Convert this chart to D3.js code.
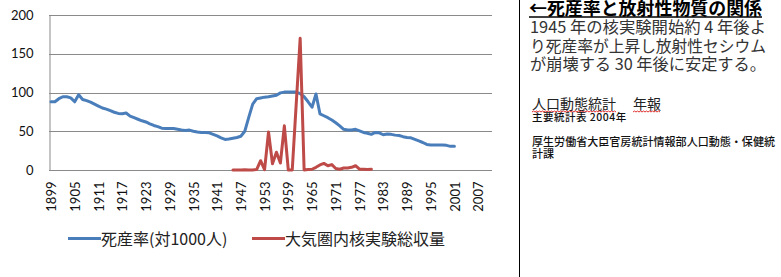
<!DOCTYPE html>
<html><head><meta charset="utf-8">
<script src="https://cdn.jsdelivr.net/npm/d3@7"></script>
<style>
html,body{margin:0;padding:0;background:#fff;}
svg{display:block;}
</style></head>
<body>
<svg id="c" width="781" height="277"></svg>
<script>
// ---- data ----
const categories = d3.range(1899, 2011); // 1899..2010
const tickLabels = [1899,1905,1911,1917,1923,1929,1935,1941,1947,1953,1959,1965,1971,1977,1983,1989,1995,2001,2007];
const yTicks = [0,50,100,150,200];

const stillbirthStart = 1899;
const stillbirthRate = [
 88,88,92,94.5,94.5,93,88,97,91,89.5,          // 1899-1908
 87.5,85,82.5,80,78.5,76.5,74.5,73,72.5,73.5,  // 1909-1918
 69.5,67.5,65.5,63.5,62,59.5,57.5,56,54,53.5,  // 1919-1928
 53.5,53.5,52.5,51.5,51,51.5,50,49,48.5,48.5,  // 1929-1938
 48,46,44,41.5,39.5,40,41,42,43.5,50,          // 1939-1948
 68,85,92,93,94,94.5,95.5,96.5,99.5,100.5,     // 1949-1958
 100.5,100.5,100.5,98.5,94.5,88,81,98,72.5,70, // 1959-1968
 67.5,64.5,61,57,52.5,51.5,51.5,52.5,50.5,48.5,// 1969-1978
 47.5,46,48.5,48,45.5,46.5,46,45,44.5,43,      // 1979-1988
 42,41.5,39.5,37.5,35.5,33,32.3,32.3,32.3,32.3,// 1989-1998
 31.8,30.5,30.5                                // 1999-2001
];

const testYieldStart = 1945;
const testYield = [
 0,0,0,0.2,0.1,0,0.6,12,0.5,49,   // 1945-1954
 8,23,9,57,0,0,85,170,0,0.5,      // 1955-1964
 1,3.5,6.5,8.5,5.5,7,2,1,2.5,2.5, // 1965-1974
 3.5,5.5,1,1,0.5,1                // 1975-1980
];

const seriesNames = ["死産率(対1000人)", "大気圏内核実験総収量"];
const seriesColors = ["#4a7ebb", "#be4b48"];

// ---- chart ----
const svg = d3.select("#c");
const pL = 49, pR = 492, pT = 15, pB = 170;

const x = d3.scalePoint().domain(categories).range([pL, pR]).padding(0.5);
const y = d3.scaleLinear().domain([0, 200]).range([pB, pT]);

// gridlines
svg.append("g").selectAll("line").data(yTicks.filter(d => d > 0)).join("line")
  .attr("x1", pL).attr("x2", pR)
  .attr("y1", d => Math.round(y(d)) + 0.5).attr("y2", d => Math.round(y(d)) + 0.5)
  .attr("stroke", "#8a8a8a").attr("stroke-width", 1);

// y axis
const yAxis = svg.append("g").attr("transform", `translate(${pL + 0.5},0)`)
  .call(d3.axisLeft(y).tickValues(yTicks).tickSize(0).tickPadding(16));
yAxis.select(".domain").attr("stroke", "#8a8a8a");
yAxis.selectAll("text").attr("font-family", "Lato, 'Liberation Sans', sans-serif")
  .attr("font-size", 13).attr("fill", "#111");

// x axis
const xAxis = svg.append("g").attr("transform", `translate(0,${Math.round(pB) + 0.5})`)
  .call(d3.axisBottom(x).tickValues(tickLabels).tickSize(0));
xAxis.select(".domain").attr("stroke", "#8a8a8a").attr("d", `M${pL},0H${pR}`);
xAxis.selectAll("text")
  .attr("font-family", "Lato, 'Liberation Sans', sans-serif")
  .attr("font-size", 13).attr("fill", "#111")
  .attr("transform", "rotate(-90)")
  .attr("text-anchor", "end")
  .attr("x", -11).attr("y", 0).attr("dy", "0.36em");

// lines
const line = d3.line().x(d => x(d[0])).y(d => y(d[1]));
const blueData = stillbirthRate.map((v, i) => [stillbirthStart + i, v]);
const redData = testYield.map((v, i) => [testYieldStart + i, v]);

svg.append("path").datum(blueData).attr("d", line)
  .attr("fill", "none").attr("stroke", seriesColors[0]).attr("stroke-width", 3)
  .attr("stroke-linejoin", "round").attr("stroke-linecap", "round");
svg.append("path").datum(redData).attr("d", line)
  .attr("fill", "none").attr("stroke", seriesColors[1]).attr("stroke-width", 3)
  .attr("stroke-linejoin", "round").attr("stroke-linecap", "round");

// legend
const legendX = [68, 252];
const leg = svg.append("g");
seriesNames.forEach((name, i) => {
  leg.append("line").attr("x1", legendX[i]).attr("x2", legendX[i] + 33)
    .attr("y1", 238.5).attr("y2", 238.5)
    .attr("stroke", seriesColors[i]).attr("stroke-width", 3);
  leg.append("text").attr("x", legendX[i] + 33).attr("y", 245)
    .attr("font-family", "'Noto Sans CJK JP', sans-serif").attr("font-size", 16)
    .attr("fill", "#222").text(name);
});

// right panel
svg.append("line").attr("x1", 519.5).attr("x2", 519.5).attr("y1", 0).attr("y2", 277)
  .attr("stroke", "#000").attr("stroke-width", 1);

const jp = "'Noto Sans CJK JP', sans-serif";
svg.append("text").attr("x", 529).attr("y", 14.5)
  .attr("font-family", jp).attr("font-size", 18).attr("font-weight", 700)
  .attr("fill", "#000").attr("textLength", 233).attr("lengthAdjust", "spacingAndGlyphs")
  .text("←死産率と放射性物質の関係");
svg.append("line").attr("x1", 529).attr("x2", 762).attr("y1", 17).attr("y2", 17)
  .attr("stroke", "#000").attr("stroke-width", 1.6);

const para = ["1945 年の核実験開始約 4 年後よ", "り死産率が上昇し放射性セシウム", "が崩壊する 30 年後に安定する。"];
para.forEach((t, i) => {
  svg.append("text").attr("x", 530).attr("y", 33 + i * 18.5)
    .attr("font-family", jp).attr("font-size", 16).attr("fill", "#333")
    .attr("textLength", 236).attr("lengthAdjust", "spacingAndGlyphs")
    .text(t);
});

svg.append("text").attr("x", 532).attr("y", 108.5)
  .attr("font-family", jp).attr("font-size", 14).attr("fill", "#222")
  .text("人口動態統計");
svg.append("text").attr("x", 633).attr("y", 108.5)
  .attr("font-family", jp).attr("font-size", 14).attr("fill", "#222")
  .text("年報");
function wavy(x0, x1, yy) {
  let d = `M${x0},${yy}`;
  let up = true;
  for (let xx = x0 + 1.5; xx <= x1; xx += 1.5) { d += `L${xx},${yy + (up ? -1 : 0)}`; up = !up; }
  return d;
}
svg.append("path").attr("d", wavy(532, 617, 112)).attr("fill", "none").attr("stroke", "#e03030").attr("stroke-width", 1);
svg.append("path").attr("d", wavy(633, 661, 112)).attr("fill", "none").attr("stroke", "#e03030").attr("stroke-width", 1);

svg.append("text").attr("x", 532).attr("y", 120.5)
  .attr("font-family", jp).attr("font-size", 10.5).attr("font-weight", 500).attr("fill", "#111")
  .attr("letter-spacing", 0.5)
  .text("主要統計表 2004年");
svg.append("text").attr("x", 532).attr("y", 146)
  .attr("font-family", jp).attr("font-size", 11).attr("font-weight", 500).attr("fill", "#111")
  .attr("textLength", 243).attr("lengthAdjust", "spacingAndGlyphs")
  .text("厚生労働省大臣官房統計情報部人口動態・保健統");
svg.append("text").attr("x", 532).attr("y", 158)
  .attr("font-family", jp).attr("font-size", 11).attr("font-weight", 500).attr("fill", "#111")
  .text("計課");
</script>
</body></html>
